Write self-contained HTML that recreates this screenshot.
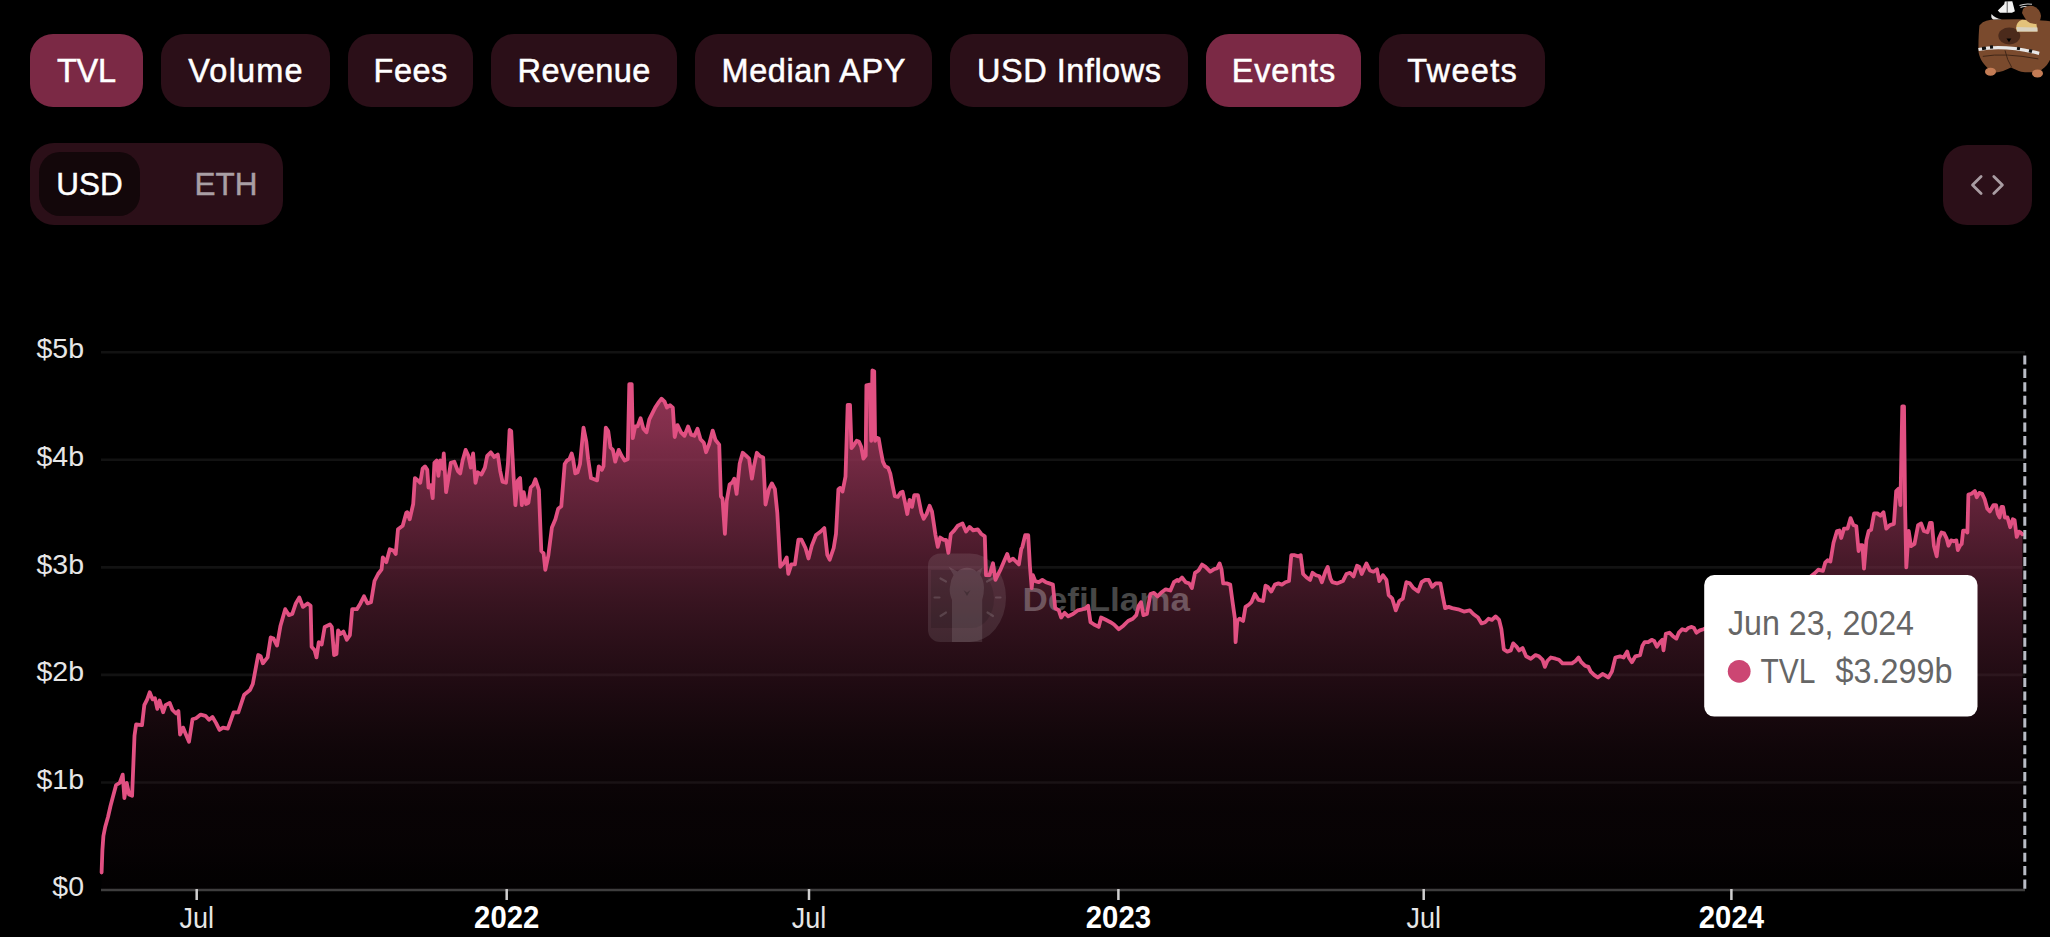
<!DOCTYPE html>
<html><head><meta charset="utf-8"><title>TVL chart</title>
<style>
html,body{margin:0;padding:0;background:#000;}
body{width:2050px;height:937px;overflow:hidden;position:relative;font-family:"Liberation Sans",Arial,sans-serif;}
.tab{position:absolute;top:34px;height:73px;border-radius:23px;background:#2b0f18;color:#fff;font-size:32.5px;display:flex;align-items:center;justify-content:center;-webkit-text-stroke:0.5px #fff;padding-top:2px;box-sizing:border-box;}
.tab.on{background:#7b2945;}
.tog{position:absolute;left:30px;top:143px;width:253px;height:82px;border-radius:24px;background:#2b0f18;}
.tog .usd{position:absolute;left:9px;top:9px;width:101px;height:64px;border-radius:21px;background:#13070a;color:#fff;font-size:31.5px;display:flex;align-items:center;justify-content:center;-webkit-text-stroke:0.45px #fff;}
.tog .eth{position:absolute;left:140px;top:9px;width:112px;height:64px;color:#a99fa4;font-size:31.5px;display:flex;align-items:center;justify-content:center;-webkit-text-stroke:0.45px #a99fa4;}
.emb{position:absolute;left:1943px;top:145px;width:89px;height:80px;border-radius:24px;background:#2b0f18;}
svg.chart{position:absolute;left:0;top:0;}
svg.bear{position:absolute;left:1970px;top:0;}
.yl{font-size:28.5px;fill:#e6e6e6;}
.xl{font-size:29.6px;fill:#e6e6e6;}
.xb{font-size:31px;fill:#fff;font-weight:bold;}
.tt{font-size:34.5px;fill:#666;}
.wm{font-size:34px;font-weight:bold;fill:#fff;fill-opacity:0.28;}
</style></head><body>
<div class="tab on" style="left:30px;width:113px;letter-spacing:-0.2px;text-indent:-0.2px">TVL</div><div class="tab" style="left:161px;width:169px;letter-spacing:1.2px;text-indent:1.2px">Volume</div><div class="tab" style="left:348px;width:125px;letter-spacing:0.5px;text-indent:0.5px">Fees</div><div class="tab" style="left:491px;width:186px;letter-spacing:0.45px;text-indent:0.45px">Revenue</div><div class="tab" style="left:695px;width:237px;letter-spacing:0.55px;text-indent:0.55px">Median APY</div><div class="tab" style="left:950px;width:238px;letter-spacing:0.5px;text-indent:0.5px">USD Inflows</div><div class="tab on" style="left:1206px;width:155px;letter-spacing:0.8px;text-indent:0.8px">Events</div><div class="tab" style="left:1379px;width:166px;letter-spacing:1.3px;text-indent:1.3px">Tweets</div>
<div class="tog"><div class="usd">USD</div><div class="eth">ETH</div></div>
<div class="emb"><svg width="89" height="80" viewBox="0 0 89 80"><path d="M38.1 31.4 L29.5 40 L38.1 48.6 M50.8 31.4 L59.4 40 L50.8 48.6" fill="none" stroke="#a99ca2" stroke-width="2.8" stroke-linecap="round" stroke-linejoin="round"/></svg></div>
<svg class="bear" width="80" height="80" viewBox="1970 0 80 80">
<path d="M1982.8 22.2 C1988 20 1992 19.6 1995.6 19.6 L2017.8 19.2 C2030 19.5 2042 20 2050 21.3 L2050 59.8 C2049 62 2048 63.5 2046.9 64.9 C2044 68 2041 70.5 2038.3 71.7 C2032 72.5 2026 72.5 2021.2 71.7 C2017 70.5 2013.5 68.5 2011 67.5 C2006 70 2000 72.5 1995.6 72.6 C1991.5 72 1989 70 1987.1 67.5 C1984 64.5 1982.3 62 1981.1 59.8 C1979.5 56 1978.6 53.5 1978.5 51.2 C1978.3 42 1978.8 32 1979.4 25.6 Z" fill="#7a4a2d"/>
<ellipse cx="2009.3" cy="35.9" rx="11" ry="8.5" fill="#4b2a1b"/>
<path d="M2006.5 38.6 L2011.3 38.6 L2009 42.2 Z" fill="#000"/>
<path d="M1978.5 49.5 Q2004 44.5 2039.2 53.4" fill="none" stroke="#e8e8e8" stroke-width="3.2"/>
<path d="M1982 48.6 L1986 48 M1990 47.2 L1993 46.9 M2017 48.2 L2020 48.8 M2029 50.6 L2032 51.4" stroke="#111" stroke-width="3.2"/>
<path d="M1982.8 56.4 Q2004.2 52.5 2038.3 58.9 M2005 50.4 Q2007 60 2011.8 67.5" fill="none" stroke="#3a2215" stroke-width="0.9"/>
<ellipse cx="1990.5" cy="71.7" rx="5.5" ry="4" fill="#c47c55"/>
<ellipse cx="2037.5" cy="73.4" rx="5.5" ry="4" fill="#c47c55"/>
<path d="M1997.8 10.5 L2004.2 4.3 L2004.8 1.5 L2012.3 1.3 L2014.9 11.2 L2012 12.8 L2000 12.8 Z" fill="#f2f2f2"/>
<path d="M2007.2 1.3 V12.8" stroke="#333" stroke-width="0.8"/>
<path d="M1991.5 14 Q1990.5 18.5 1993.5 19.6 L2002 19.3 Q1995 18.5 1991.5 14 Z" fill="#e6e6e6"/>
<path d="M2019.5 5.5 Q2025 3.2 2032 4.3 M2020.5 7.5 Q2025 5.5 2028 7.5 M2026.5 8 Q2027.5 12 2025 16" fill="none" stroke="#d0d0d0" stroke-width="1.1"/>
<path d="M2016.1 28.5 Q2016 22 2022 19.8 L2036 21 L2037.5 31.6 L2017 31.6 Z" fill="#e3c27a"/>
<path d="M2016.5 27 L2037.5 27.5 L2037.5 31.6 L2017 31.6 Z" fill="#d9d2c0"/>
<path d="M2023 9 Q2027 5 2033 6 Q2040 8.5 2041 16 Q2040.5 22 2036 23.9 Q2030 24 2027 21 Q2024 17 2022 13 Z" fill="#7a4a2d"/>
</svg>
<svg class="chart" width="2050" height="937" viewBox="0 0 2050 937">
<defs><linearGradient id="g" x1="0" y1="370.5" x2="0" y2="890.0" gradientUnits="userSpaceOnUse"><stop offset="0.0" stop-color="rgb(148, 53, 86)" stop-opacity="1.000"/><stop offset="0.115" stop-color="rgb(145, 52, 84)" stop-opacity="0.885"/><stop offset="0.3" stop-color="rgb(124, 44, 72)" stop-opacity="0.700"/><stop offset="0.443" stop-color="rgb(101, 36, 58)" stop-opacity="0.557"/><stop offset="0.6" stop-color="rgb(80, 28, 46)" stop-opacity="0.400"/><stop offset="0.731" stop-color="rgb(59, 21, 34)" stop-opacity="0.269"/><stop offset="0.85" stop-color="rgb(54, 19, 31)" stop-opacity="0.150"/><stop offset="0.962" stop-color="rgb(95, 34, 55)" stop-opacity="0.038"/><stop offset="1.0" stop-color="rgb(90, 32, 52)" stop-opacity="0.030"/></linearGradient></defs>
<line x1="101" y1="782.45" x2="2025" y2="782.45" stroke="#121212" stroke-width="2.6"/><line x1="101" y1="674.90" x2="2025" y2="674.90" stroke="#121212" stroke-width="2.6"/><line x1="101" y1="567.35" x2="2025" y2="567.35" stroke="#121212" stroke-width="2.6"/><line x1="101" y1="459.80" x2="2025" y2="459.80" stroke="#121212" stroke-width="2.6"/><line x1="101" y1="352.25" x2="2025" y2="352.25" stroke="#121212" stroke-width="2.6"/>
<line x1="101" y1="890" x2="2025" y2="890" stroke="#3e3e3e" stroke-width="2.5"/>
<line x1="196.7" y1="889" x2="196.7" y2="900" stroke="#cfcfcf" stroke-width="2.5"/><text x="196.7" y="927.8" text-anchor="middle" textLength="34.5" lengthAdjust="spacingAndGlyphs" class="xl">Jul</text><line x1="506.7" y1="889" x2="506.7" y2="900" stroke="#cfcfcf" stroke-width="2.5"/><text x="506.7" y="927.8" text-anchor="middle" textLength="65.2" lengthAdjust="spacingAndGlyphs" class="xb">2022</text><line x1="809" y1="889" x2="809" y2="900" stroke="#cfcfcf" stroke-width="2.5"/><text x="809" y="927.8" text-anchor="middle" textLength="34.5" lengthAdjust="spacingAndGlyphs" class="xl">Jul</text><line x1="1118.4" y1="889" x2="1118.4" y2="900" stroke="#cfcfcf" stroke-width="2.5"/><text x="1118.4" y="927.8" text-anchor="middle" textLength="65.2" lengthAdjust="spacingAndGlyphs" class="xb">2023</text><line x1="1423.7" y1="889" x2="1423.7" y2="900" stroke="#cfcfcf" stroke-width="2.5"/><text x="1423.7" y="927.8" text-anchor="middle" textLength="34.5" lengthAdjust="spacingAndGlyphs" class="xl">Jul</text><line x1="1731.4" y1="889" x2="1731.4" y2="900" stroke="#cfcfcf" stroke-width="2.5"/><text x="1731.4" y="927.8" text-anchor="middle" textLength="65.2" lengthAdjust="spacingAndGlyphs" class="xb">2024</text>
<text x="84" y="896.2" text-anchor="end" class="yl">$0</text><text x="84" y="788.7" text-anchor="end" class="yl">$1b</text><text x="84" y="681.1" text-anchor="end" class="yl">$2b</text><text x="84" y="573.6" text-anchor="end" class="yl">$3b</text><text x="84" y="466.0" text-anchor="end" class="yl">$4b</text><text x="84" y="358.4" text-anchor="end" class="yl">$5b</text>
<path d="M101.6 872.5 L102.4 850 L103.4 836 L105.2 827 L108 817 L110.5 806 L112.6 798 L116.1 785 L119.7 782.8 L122.7 774.6 L124.4 798 L126.7 782.8 L129.1 794.5 L132.1 795.7 L134.5 735.8 L136.1 724.5 L142 725.2 L144.3 705.2 L147.2 699.4 L149.7 692.3 L152.6 699.4 L154.9 698.2 L157.3 708.8 L159.6 700.5 L163.1 712.3 L165.5 705.2 L169.7 702.9 L172.5 710 L176.1 713.5 L178.4 711.1 L180.1 734.6 L183.1 727.6 L185.5 733.4 L189 741.7 L192.5 719.3 L196 718.2 L200.7 714.6 L205.4 715.8 L209 719.8 L212.5 717 L216 722.9 L219.5 729.9 L223 727.6 L227.8 728.7 L233.6 712.3 L238.3 712.3 L244.2 694.7 L250 690 L252.8 684 L258.2 655 L260.6 656.2 L262.9 663.3 L267.6 657.4 L270.7 637.4 L273.5 638.6 L277 645.6 L280.5 625.7 L285.2 609.2 L288.8 615.1 L292.3 613.9 L295.8 603.4 L299.3 597.5 L302.9 606.9 L307.6 603.4 L310.6 605.7 L311.6 646.8 L314.6 650.3 L316.5 657.4 L318.8 642.1 L321.7 644.5 L324.7 626.9 L329.9 624.5 L331.8 626.9 L334.1 655 L336.5 653.9 L338.1 630.4 L340.5 633.9 L343.5 631.6 L346.8 639.8 L349.9 635.1 L352.2 609.2 L356.9 609.2 L360.4 603.4 L364 596.3 L367.5 603.4 L371 602.2 L374.5 581 L378.1 574 L381.6 569.3 L382.8 557.5 L386.3 562.2 L389.8 549.3 L393.3 550.5 L395.7 554 L398 529.3 L402.7 525.8 L406.2 512.9 L407.3 512.2 L409.7 519.3 L413.2 504 L414.9 478.1 L417.9 480.5 L420.3 482.8 L422.6 468.7 L425 466.4 L427.3 469.9 L428.5 487.5 L430.8 485.2 L432.7 498.1 L434.4 462.9 L436.7 460.5 L438.4 475.8 L440.2 460.5 L442.6 468.7 L443.8 453.5 L446.1 492.2 L448.5 478.1 L450.8 462.9 L454.3 461.7 L457.9 471.1 L460.2 473.4 L462.6 460.5 L465.6 449.9 L468.4 455.8 L470.8 467.6 L473.1 453.5 L475.5 482.8 L477.8 472.3 L481.4 474.6 L484.9 467.6 L487.2 455.8 L490.8 452.3 L494.3 457 L497.8 454.6 L500.2 471.1 L502.5 481.7 L506 482.8 L507.9 464 L509.6 430 L511.2 431.1 L513.6 477 L515.4 505.2 L517.8 480.5 L520.1 478.1 L521.8 505.2 L523.7 492.2 L526 504 L528.4 502.8 L530.7 487.5 L533.1 485.2 L535.4 479.3 L538.9 489.9 L541.3 551 L543.6 553.3 L545.3 569.8 L548.3 555.7 L551.9 527.5 L555.4 519.3 L558.2 508.7 L561.3 506.3 L564.7 464 L567 460.5 L569.4 459.3 L571.7 453.4 L572.9 458.1 L575.3 473.4 L577.6 472.2 L580 464 L583.5 427.6 L586.3 441.7 L588.2 459.3 L591 478.1 L594.1 479.3 L597.1 480.4 L598.8 466.3 L601.8 469.9 L603.5 466.3 L605.8 427.6 L608.2 431.1 L610.5 447.5 L612.9 449.9 L615.2 461.6 L618.7 449.9 L621.6 455.8 L624.6 460.5 L627.7 459.3 L629.3 384.1 L631.7 384.1 L632.8 438.1 L635.2 426.4 L637.5 426.4 L640.6 418.2 L643.4 428.7 L646.5 432.3 L649.3 419.3 L652.8 412.3 L655.2 407.6 L658.2 402.9 L661.5 398.7 L664.6 401.7 L666.9 407.6 L670 405.2 L672.8 407.6 L674.7 437 L677.5 425.2 L681 432.3 L684.5 435.8 L688.1 426.4 L691.1 434.6 L694.4 435.8 L697.5 428.7 L700.5 439.3 L703.8 442.8 L706.1 452.2 L709.2 444 L712.7 430.6 L715.5 440 L719.2 444.6 L720.9 496.3 L722.5 498.6 L724.9 533.9 L726.7 501 L729.6 484.5 L732.6 482.2 L734.3 478.7 L736.6 493.9 L739.7 463.4 L742.7 452.8 L745.5 455.2 L749.1 458.7 L751.9 478.7 L753.8 466.9 L756.8 452.8 L760.1 456.3 L763.2 457.5 L765.5 504.5 L769 489.2 L771.9 483.4 L774.9 489.2 L777.3 512.7 L780.3 566.8 L783.6 563.2 L786.7 557.4 L788.3 573.8 L791.4 564.4 L794.9 564.4 L798.4 539.7 L801.5 539.7 L805.5 548 L808.5 558.5 L811.8 545.6 L816 535 L820.7 531.5 L824.3 528 L827.3 555 L829.7 559.7 L833.7 548 L836 533.9 L838.4 489.2 L840.2 487.9 L842.5 491.6 L845.5 476.7 L847.7 404.9 L850 404.9 L851.5 448.2 L853.7 445.3 L856.7 440.8 L858.9 441.5 L861.2 446.7 L863.4 458.7 L865.7 455.7 L866.4 385.4 L869.7 384.7 L871.2 440.8 L872.4 370.5 L874.2 371.2 L875.1 440.8 L876.9 437.8 L878.7 438.5 L880.6 449.7 L882.9 461.7 L885.1 466.2 L888.1 467.7 L890.3 473.7 L892.6 485.6 L894.8 496.1 L897.8 496.9 L900.8 492.4 L902.6 491.7 L904.9 502.2 L907.3 514 L909.6 499.9 L912 506.9 L914.3 495.2 L917.9 495.2 L921.4 512.8 L923.7 518.7 L926.6 514 L929.6 505.8 L932 511.6 L935.5 535.1 L937.8 546.9 L940.2 537.5 L943.7 539.8 L946.1 539.8 L948.4 552.8 L950.8 534 L954.3 530.4 L957.8 525.7 L962.5 523.4 L966 531.6 L969.6 526.9 L973.1 530.4 L977.8 529.3 L981.3 534 L984.8 536.3 L986 575.1 L989.5 575.1 L993 563.3 L995.4 579.8 L1000.1 570.4 L1003.6 562.2 L1007.2 553.9 L1009.5 561 L1013 558.6 L1015.4 561 L1018.9 564.5 L1021.2 549.2 L1022.3 547 L1025.2 535.2 L1028.2 535.2 L1029.9 565.8 L1031.7 588.1 L1032.9 575.2 L1035.3 581.1 L1038.8 582.2 L1042.3 579.9 L1045.8 582.2 L1049.4 583.4 L1052.9 584.6 L1055.2 608.1 L1058.8 610.4 L1061.1 617.5 L1064.6 612.8 L1068.2 616.3 L1072.9 614 L1077.6 610.4 L1082.3 609.3 L1085.8 608.1 L1088.1 605.7 L1090.5 622.2 L1094 624.5 L1098.7 626.9 L1101.1 617.5 L1105.8 619.8 L1110.5 622.2 L1114 624.5 L1118.7 629.2 L1123.4 625.7 L1128.1 621 L1132.8 618.7 L1136.3 615.1 L1138.7 605.7 L1141 602.2 L1143.4 615.1 L1146.9 614 L1150.4 594 L1153.9 592.8 L1157.5 596.3 L1161 592.8 L1165.7 589.3 L1170.4 590.5 L1173.9 582.2 L1177.4 579.9 L1178.5 581 L1182 577.5 L1185.6 582.2 L1189.1 583.4 L1191.9 588.1 L1195 572.8 L1198.5 570.5 L1202 564.6 L1205.5 566.9 L1210.2 571.6 L1213.8 569.3 L1217.3 568.1 L1219.6 563.4 L1221.5 569.3 L1223.2 583.4 L1226.7 583.4 L1230.2 584.6 L1232.6 602.2 L1234.9 618.6 L1235.6 642.1 L1237.3 621 L1239.6 618.6 L1243.1 621 L1245.5 606.9 L1249 604.5 L1251.4 602.2 L1254.9 594 L1258.4 599.8 L1263.1 601 L1265.5 585.7 L1267.8 586.9 L1271.3 591.6 L1274.9 584.6 L1278.4 583.4 L1281.9 584.6 L1285.4 582.2 L1289 581 L1291.3 555.2 L1294.8 555.2 L1298.4 556.4 L1300.7 555.2 L1303.1 574 L1306.6 577.5 L1310.1 579.9 L1312.5 572.8 L1316 575.2 L1319.5 576.3 L1321.9 582.2 L1325.4 571.6 L1327.7 566.9 L1330.5 578.7 L1332.3 582.2 L1337 583.4 L1342.9 581.1 L1346.4 574 L1350 572.8 L1353.5 576.4 L1357 565.8 L1359.4 567 L1361.7 574 L1366.4 563.4 L1369.9 570.5 L1373.5 571.7 L1377 569.3 L1379.3 581.1 L1382.9 575.2 L1386.4 579.9 L1388.7 595.2 L1392.3 598.7 L1395.8 610.4 L1399.3 601 L1402.8 598.7 L1406.4 582.2 L1409.9 583.4 L1413.4 588.1 L1418.1 591.6 L1421.6 582.2 L1425.2 579.9 L1428.7 579.9 L1432.2 586.9 L1435.7 583.4 L1440.4 583.4 L1442.8 596.3 L1445.1 608.1 L1448.7 606.9 L1452.2 608.1 L1458.1 609.3 L1463.9 611.6 L1469.8 610.4 L1473.3 614 L1478 617.5 L1481.6 623.4 L1485.1 622.2 L1488.5 618.7 L1492 619.9 L1495.6 616.4 L1499.1 619.9 L1501.4 629.3 L1503.8 649.3 L1507.3 651.6 L1510.8 650.4 L1513.2 643.4 L1516.7 646.9 L1519.1 650.4 L1522.6 648.1 L1526.1 656.3 L1530.8 658.7 L1535.5 655.1 L1539 656.3 L1542.6 659.8 L1544.9 666.9 L1547.3 661 L1550.8 657.5 L1555.5 658.7 L1559 659.8 L1562.5 663.4 L1567.2 663.4 L1571.9 663.4 L1575.5 661 L1578.5 657.5 L1581.3 662.2 L1584.9 665.7 L1588.4 666.9 L1590.7 671.6 L1594.3 675.1 L1597.8 677.5 L1602.5 673.9 L1604.8 675.1 L1608.4 677.5 L1611.9 671.6 L1615.4 657.5 L1620.1 656.3 L1623.6 657.5 L1627.2 651.6 L1628.8 657.5 L1631.9 662.2 L1635.4 656.3 L1640.1 655.1 L1642.4 645.7 L1644.7 642.1 L1648.2 642.1 L1651.7 639.8 L1654.1 640.9 L1656.9 646.8 L1660 642.1 L1662.3 639.8 L1663.5 650.3 L1665.8 633.9 L1669.4 632.7 L1672.9 636.2 L1676.4 638.6 L1678.8 632.7 L1682.3 629.2 L1685.8 630.4 L1688.2 628 L1691.7 626.9 L1694 628 L1696.4 632.7 L1699.9 630.4 L1703.4 629.2 L1720 622 L1740 615 L1760 608 L1780 598 L1800 585 L1814.7 573.3 L1818.2 569.7 L1822.9 570.9 L1825.2 562.7 L1827.6 560.3 L1830.4 561.5 L1833.5 542.7 L1837 531 L1839.3 530.5 L1841.2 538 L1844 528.6 L1847.6 528.6 L1850.6 518.1 L1853.4 525.1 L1856.3 526.3 L1858.6 551 L1860.5 545.1 L1862.4 545.1 L1864 568.6 L1866.4 540.4 L1868.7 531 L1871.1 529.8 L1874.1 513.4 L1877.4 513.4 L1880.5 515.7 L1883.5 512.2 L1886.3 528.6 L1889.9 525.1 L1893.9 523.9 L1896.2 491 L1898.6 488.7 L1900.4 505.1 L1902.3 406.4 L1904 406.4 L1905.1 507.5 L1906.3 567.4 L1908.7 531 L1911 546.2 L1914.5 543.9 L1918.1 525.1 L1921.1 523.5 L1923.9 531 L1927.5 532.2 L1930 522.8 L1931.8 522.8 L1933.9 545.7 L1936.7 556.3 L1938.8 538.7 L1941.5 532.5 L1944.1 533.4 L1946.7 538.7 L1948.5 545.7 L1951.1 540.4 L1953.8 541.3 L1956.4 540.4 L1957.8 550.1 L1960 545.7 L1961.7 544 L1963.1 530.7 L1965.2 530.7 L1967.4 532.5 L1968.4 494.6 L1971.4 493.7 L1974.9 491.1 L1976.7 497.3 L1979.3 492.9 L1982 493.7 L1984.6 499 L1987.3 508.7 L1989.9 511.4 L1993.4 505.2 L1996.1 505.2 L1997.8 514 L1999.6 517.5 L2001.4 507 L2003.1 507 L2004.9 517.5 L2007.5 517.5 L2010.2 527.2 L2012.8 519.3 L2014.6 520.2 L2016.7 536.9 L2019 531.6 L2020.7 532.5 L2022.5 534.3 L2022.5 890.0 L101.6 890.0 Z" fill="url(#g)"/>
<g>
<path d="M940 553.4 H970 A36 44.25 0 0 1 970 641.9 H940 A12 12 0 0 1 928 629.9 V565.4 A12 12 0 0 1 940 553.4 Z" fill="#fff" fill-opacity="0.10"/>
<path d="M931 570 H972 A22 29 0 0 1 972 628 H931 Z" fill="#000" fill-opacity="0.13"/>
<path d="M952 642 V600 Q948.5 592 950.3 585 Q951 579 953.6 575 L948.5 566.5 L957.5 571.5 Q962 567.5 967 567.8 Q972 567.5 976.5 571.5 L982.5 567.5 L980.2 575 Q983.8 580 984 588 Q984 594 982.2 600 V642 Z" fill="#fff" fill-opacity="0.11"/>
<path d="M963.5 590 L967 592.5 L970.5 590 L967 596 Z" fill="#000" fill-opacity="0.22"/>
<path d="M940.5 578.5 L946 581.5 M934.5 597.5 L939.5 597.5 M940.5 616 L946 612.5 M987 581.5 L992.5 578.5 M996 597.5 L1000.5 597.5 M987.5 612.5 L993 616" stroke="#fff" stroke-opacity="0.14" stroke-width="2.2" stroke-linecap="round"/>
</g>
<text x="1022.5" y="610.7" class="wm" textLength="167.5" lengthAdjust="spacingAndGlyphs">DefiLlama</text>
<path d="M101.6 872.5 L102.4 850 L103.4 836 L105.2 827 L108 817 L110.5 806 L112.6 798 L116.1 785 L119.7 782.8 L122.7 774.6 L124.4 798 L126.7 782.8 L129.1 794.5 L132.1 795.7 L134.5 735.8 L136.1 724.5 L142 725.2 L144.3 705.2 L147.2 699.4 L149.7 692.3 L152.6 699.4 L154.9 698.2 L157.3 708.8 L159.6 700.5 L163.1 712.3 L165.5 705.2 L169.7 702.9 L172.5 710 L176.1 713.5 L178.4 711.1 L180.1 734.6 L183.1 727.6 L185.5 733.4 L189 741.7 L192.5 719.3 L196 718.2 L200.7 714.6 L205.4 715.8 L209 719.8 L212.5 717 L216 722.9 L219.5 729.9 L223 727.6 L227.8 728.7 L233.6 712.3 L238.3 712.3 L244.2 694.7 L250 690 L252.8 684 L258.2 655 L260.6 656.2 L262.9 663.3 L267.6 657.4 L270.7 637.4 L273.5 638.6 L277 645.6 L280.5 625.7 L285.2 609.2 L288.8 615.1 L292.3 613.9 L295.8 603.4 L299.3 597.5 L302.9 606.9 L307.6 603.4 L310.6 605.7 L311.6 646.8 L314.6 650.3 L316.5 657.4 L318.8 642.1 L321.7 644.5 L324.7 626.9 L329.9 624.5 L331.8 626.9 L334.1 655 L336.5 653.9 L338.1 630.4 L340.5 633.9 L343.5 631.6 L346.8 639.8 L349.9 635.1 L352.2 609.2 L356.9 609.2 L360.4 603.4 L364 596.3 L367.5 603.4 L371 602.2 L374.5 581 L378.1 574 L381.6 569.3 L382.8 557.5 L386.3 562.2 L389.8 549.3 L393.3 550.5 L395.7 554 L398 529.3 L402.7 525.8 L406.2 512.9 L407.3 512.2 L409.7 519.3 L413.2 504 L414.9 478.1 L417.9 480.5 L420.3 482.8 L422.6 468.7 L425 466.4 L427.3 469.9 L428.5 487.5 L430.8 485.2 L432.7 498.1 L434.4 462.9 L436.7 460.5 L438.4 475.8 L440.2 460.5 L442.6 468.7 L443.8 453.5 L446.1 492.2 L448.5 478.1 L450.8 462.9 L454.3 461.7 L457.9 471.1 L460.2 473.4 L462.6 460.5 L465.6 449.9 L468.4 455.8 L470.8 467.6 L473.1 453.5 L475.5 482.8 L477.8 472.3 L481.4 474.6 L484.9 467.6 L487.2 455.8 L490.8 452.3 L494.3 457 L497.8 454.6 L500.2 471.1 L502.5 481.7 L506 482.8 L507.9 464 L509.6 430 L511.2 431.1 L513.6 477 L515.4 505.2 L517.8 480.5 L520.1 478.1 L521.8 505.2 L523.7 492.2 L526 504 L528.4 502.8 L530.7 487.5 L533.1 485.2 L535.4 479.3 L538.9 489.9 L541.3 551 L543.6 553.3 L545.3 569.8 L548.3 555.7 L551.9 527.5 L555.4 519.3 L558.2 508.7 L561.3 506.3 L564.7 464 L567 460.5 L569.4 459.3 L571.7 453.4 L572.9 458.1 L575.3 473.4 L577.6 472.2 L580 464 L583.5 427.6 L586.3 441.7 L588.2 459.3 L591 478.1 L594.1 479.3 L597.1 480.4 L598.8 466.3 L601.8 469.9 L603.5 466.3 L605.8 427.6 L608.2 431.1 L610.5 447.5 L612.9 449.9 L615.2 461.6 L618.7 449.9 L621.6 455.8 L624.6 460.5 L627.7 459.3 L629.3 384.1 L631.7 384.1 L632.8 438.1 L635.2 426.4 L637.5 426.4 L640.6 418.2 L643.4 428.7 L646.5 432.3 L649.3 419.3 L652.8 412.3 L655.2 407.6 L658.2 402.9 L661.5 398.7 L664.6 401.7 L666.9 407.6 L670 405.2 L672.8 407.6 L674.7 437 L677.5 425.2 L681 432.3 L684.5 435.8 L688.1 426.4 L691.1 434.6 L694.4 435.8 L697.5 428.7 L700.5 439.3 L703.8 442.8 L706.1 452.2 L709.2 444 L712.7 430.6 L715.5 440 L719.2 444.6 L720.9 496.3 L722.5 498.6 L724.9 533.9 L726.7 501 L729.6 484.5 L732.6 482.2 L734.3 478.7 L736.6 493.9 L739.7 463.4 L742.7 452.8 L745.5 455.2 L749.1 458.7 L751.9 478.7 L753.8 466.9 L756.8 452.8 L760.1 456.3 L763.2 457.5 L765.5 504.5 L769 489.2 L771.9 483.4 L774.9 489.2 L777.3 512.7 L780.3 566.8 L783.6 563.2 L786.7 557.4 L788.3 573.8 L791.4 564.4 L794.9 564.4 L798.4 539.7 L801.5 539.7 L805.5 548 L808.5 558.5 L811.8 545.6 L816 535 L820.7 531.5 L824.3 528 L827.3 555 L829.7 559.7 L833.7 548 L836 533.9 L838.4 489.2 L840.2 487.9 L842.5 491.6 L845.5 476.7 L847.7 404.9 L850 404.9 L851.5 448.2 L853.7 445.3 L856.7 440.8 L858.9 441.5 L861.2 446.7 L863.4 458.7 L865.7 455.7 L866.4 385.4 L869.7 384.7 L871.2 440.8 L872.4 370.5 L874.2 371.2 L875.1 440.8 L876.9 437.8 L878.7 438.5 L880.6 449.7 L882.9 461.7 L885.1 466.2 L888.1 467.7 L890.3 473.7 L892.6 485.6 L894.8 496.1 L897.8 496.9 L900.8 492.4 L902.6 491.7 L904.9 502.2 L907.3 514 L909.6 499.9 L912 506.9 L914.3 495.2 L917.9 495.2 L921.4 512.8 L923.7 518.7 L926.6 514 L929.6 505.8 L932 511.6 L935.5 535.1 L937.8 546.9 L940.2 537.5 L943.7 539.8 L946.1 539.8 L948.4 552.8 L950.8 534 L954.3 530.4 L957.8 525.7 L962.5 523.4 L966 531.6 L969.6 526.9 L973.1 530.4 L977.8 529.3 L981.3 534 L984.8 536.3 L986 575.1 L989.5 575.1 L993 563.3 L995.4 579.8 L1000.1 570.4 L1003.6 562.2 L1007.2 553.9 L1009.5 561 L1013 558.6 L1015.4 561 L1018.9 564.5 L1021.2 549.2 L1022.3 547 L1025.2 535.2 L1028.2 535.2 L1029.9 565.8 L1031.7 588.1 L1032.9 575.2 L1035.3 581.1 L1038.8 582.2 L1042.3 579.9 L1045.8 582.2 L1049.4 583.4 L1052.9 584.6 L1055.2 608.1 L1058.8 610.4 L1061.1 617.5 L1064.6 612.8 L1068.2 616.3 L1072.9 614 L1077.6 610.4 L1082.3 609.3 L1085.8 608.1 L1088.1 605.7 L1090.5 622.2 L1094 624.5 L1098.7 626.9 L1101.1 617.5 L1105.8 619.8 L1110.5 622.2 L1114 624.5 L1118.7 629.2 L1123.4 625.7 L1128.1 621 L1132.8 618.7 L1136.3 615.1 L1138.7 605.7 L1141 602.2 L1143.4 615.1 L1146.9 614 L1150.4 594 L1153.9 592.8 L1157.5 596.3 L1161 592.8 L1165.7 589.3 L1170.4 590.5 L1173.9 582.2 L1177.4 579.9 L1178.5 581 L1182 577.5 L1185.6 582.2 L1189.1 583.4 L1191.9 588.1 L1195 572.8 L1198.5 570.5 L1202 564.6 L1205.5 566.9 L1210.2 571.6 L1213.8 569.3 L1217.3 568.1 L1219.6 563.4 L1221.5 569.3 L1223.2 583.4 L1226.7 583.4 L1230.2 584.6 L1232.6 602.2 L1234.9 618.6 L1235.6 642.1 L1237.3 621 L1239.6 618.6 L1243.1 621 L1245.5 606.9 L1249 604.5 L1251.4 602.2 L1254.9 594 L1258.4 599.8 L1263.1 601 L1265.5 585.7 L1267.8 586.9 L1271.3 591.6 L1274.9 584.6 L1278.4 583.4 L1281.9 584.6 L1285.4 582.2 L1289 581 L1291.3 555.2 L1294.8 555.2 L1298.4 556.4 L1300.7 555.2 L1303.1 574 L1306.6 577.5 L1310.1 579.9 L1312.5 572.8 L1316 575.2 L1319.5 576.3 L1321.9 582.2 L1325.4 571.6 L1327.7 566.9 L1330.5 578.7 L1332.3 582.2 L1337 583.4 L1342.9 581.1 L1346.4 574 L1350 572.8 L1353.5 576.4 L1357 565.8 L1359.4 567 L1361.7 574 L1366.4 563.4 L1369.9 570.5 L1373.5 571.7 L1377 569.3 L1379.3 581.1 L1382.9 575.2 L1386.4 579.9 L1388.7 595.2 L1392.3 598.7 L1395.8 610.4 L1399.3 601 L1402.8 598.7 L1406.4 582.2 L1409.9 583.4 L1413.4 588.1 L1418.1 591.6 L1421.6 582.2 L1425.2 579.9 L1428.7 579.9 L1432.2 586.9 L1435.7 583.4 L1440.4 583.4 L1442.8 596.3 L1445.1 608.1 L1448.7 606.9 L1452.2 608.1 L1458.1 609.3 L1463.9 611.6 L1469.8 610.4 L1473.3 614 L1478 617.5 L1481.6 623.4 L1485.1 622.2 L1488.5 618.7 L1492 619.9 L1495.6 616.4 L1499.1 619.9 L1501.4 629.3 L1503.8 649.3 L1507.3 651.6 L1510.8 650.4 L1513.2 643.4 L1516.7 646.9 L1519.1 650.4 L1522.6 648.1 L1526.1 656.3 L1530.8 658.7 L1535.5 655.1 L1539 656.3 L1542.6 659.8 L1544.9 666.9 L1547.3 661 L1550.8 657.5 L1555.5 658.7 L1559 659.8 L1562.5 663.4 L1567.2 663.4 L1571.9 663.4 L1575.5 661 L1578.5 657.5 L1581.3 662.2 L1584.9 665.7 L1588.4 666.9 L1590.7 671.6 L1594.3 675.1 L1597.8 677.5 L1602.5 673.9 L1604.8 675.1 L1608.4 677.5 L1611.9 671.6 L1615.4 657.5 L1620.1 656.3 L1623.6 657.5 L1627.2 651.6 L1628.8 657.5 L1631.9 662.2 L1635.4 656.3 L1640.1 655.1 L1642.4 645.7 L1644.7 642.1 L1648.2 642.1 L1651.7 639.8 L1654.1 640.9 L1656.9 646.8 L1660 642.1 L1662.3 639.8 L1663.5 650.3 L1665.8 633.9 L1669.4 632.7 L1672.9 636.2 L1676.4 638.6 L1678.8 632.7 L1682.3 629.2 L1685.8 630.4 L1688.2 628 L1691.7 626.9 L1694 628 L1696.4 632.7 L1699.9 630.4 L1703.4 629.2 L1720 622 L1740 615 L1760 608 L1780 598 L1800 585 L1814.7 573.3 L1818.2 569.7 L1822.9 570.9 L1825.2 562.7 L1827.6 560.3 L1830.4 561.5 L1833.5 542.7 L1837 531 L1839.3 530.5 L1841.2 538 L1844 528.6 L1847.6 528.6 L1850.6 518.1 L1853.4 525.1 L1856.3 526.3 L1858.6 551 L1860.5 545.1 L1862.4 545.1 L1864 568.6 L1866.4 540.4 L1868.7 531 L1871.1 529.8 L1874.1 513.4 L1877.4 513.4 L1880.5 515.7 L1883.5 512.2 L1886.3 528.6 L1889.9 525.1 L1893.9 523.9 L1896.2 491 L1898.6 488.7 L1900.4 505.1 L1902.3 406.4 L1904 406.4 L1905.1 507.5 L1906.3 567.4 L1908.7 531 L1911 546.2 L1914.5 543.9 L1918.1 525.1 L1921.1 523.5 L1923.9 531 L1927.5 532.2 L1930 522.8 L1931.8 522.8 L1933.9 545.7 L1936.7 556.3 L1938.8 538.7 L1941.5 532.5 L1944.1 533.4 L1946.7 538.7 L1948.5 545.7 L1951.1 540.4 L1953.8 541.3 L1956.4 540.4 L1957.8 550.1 L1960 545.7 L1961.7 544 L1963.1 530.7 L1965.2 530.7 L1967.4 532.5 L1968.4 494.6 L1971.4 493.7 L1974.9 491.1 L1976.7 497.3 L1979.3 492.9 L1982 493.7 L1984.6 499 L1987.3 508.7 L1989.9 511.4 L1993.4 505.2 L1996.1 505.2 L1997.8 514 L1999.6 517.5 L2001.4 507 L2003.1 507 L2004.9 517.5 L2007.5 517.5 L2010.2 527.2 L2012.8 519.3 L2014.6 520.2 L2016.7 536.9 L2019 531.6 L2020.7 532.5 L2022.5 534.3" fill="none" stroke="#e15082" stroke-width="3.8" stroke-linejoin="round" stroke-linecap="round"/>
<line x1="2024.8" y1="355.4" x2="2024.8" y2="889" stroke="#b9bcc5" stroke-width="3" stroke-dasharray="9.1 4.34"/>
<rect x="1704.2" y="575" width="273.3" height="141.6" rx="10" fill="#fff"/>
<text x="1728" y="635" class="tt" textLength="186" lengthAdjust="spacingAndGlyphs">Jun 23, 2024</text>
<circle cx="1739.2" cy="671.3" r="11.4" fill="#cc4673"/>
<text x="1760.5" y="682.8" class="tt" textLength="55" lengthAdjust="spacingAndGlyphs">TVL</text>
<text x="1835.5" y="682.8" class="tt" textLength="117" lengthAdjust="spacingAndGlyphs">$3.299b</text>
</svg>
</body></html>
